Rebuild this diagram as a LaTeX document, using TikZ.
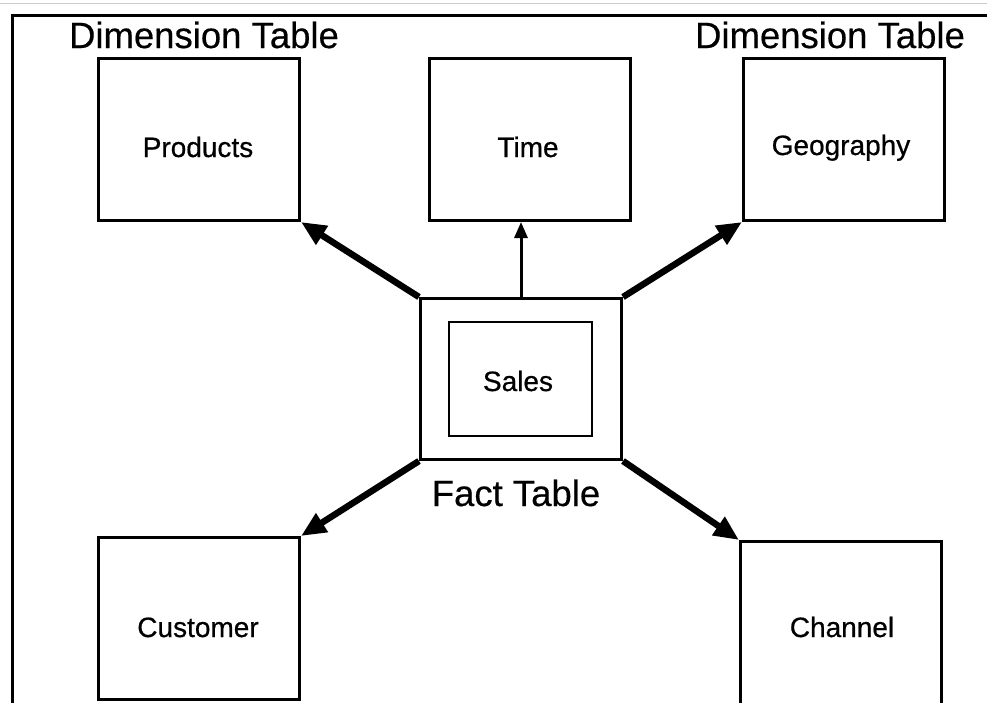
\documentclass[tikz,border=0pt]{standalone}
\usepackage{fontspec}
\setmainfont[FakeBold=0.6]{Liberation Sans}
\newfontfamily\titlefont[FakeBold=0.4]{Liberation Sans}
\usetikzlibrary{arrows.meta}
\begin{document}
\begin{tikzpicture}[x=1pt,y=-1pt,
  box/.style={draw,line width=3pt,minimum width=201pt,minimum height=162pt,inner sep=0pt,anchor=north west},
  lbl/.style={anchor=base,inner sep=0pt,font=\fontsize{28}{32}\selectfont},
  title/.style={anchor=base,inner sep=0pt,font=\titlefont\fontsize{36.5}{42}\selectfont},
  fat/.style={line width=6.5pt,-{Triangle[length=25pt,width=21pt]}},
  slim/.style={line width=3pt,-{Triangle[length=16pt,width=13pt]}}
]
\useasboundingbox (0,0) rectangle (987,702);
% top grey rule and frame
\draw[black!20,line width=1pt] (0,3.5) -- (987,3.5);
\draw[line width=3.5pt] (12.5,710) -- (12.5,15.5) -- (995,15.5);
% titles
\node[title] (dl) at (204,48) {Dimension Table};
\node[title] (dr) at (830,48) {Dimension Table};
% dimension boxes
\node[box] (prod) at (97,57) {};
\node[box] (time) at (428,57) {};
\node[box] (geo) at (742,57) {};
\node[box] (cust) at (97,536) {};
\node[box,minimum height=175pt] (chan) at (739,540) {};
% fact box
\node[box,minimum height=161pt] (fact) at (419,297) {};
\node[draw,line width=2pt,minimum width=143pt,minimum height=114pt,inner sep=0pt,anchor=north west] (sales) at (448,321) {};
% labels
\node[lbl] (prodt) at (198,157) {Products};
\node[lbl] (timet) at (528,157) {Time};
\node[lbl] (geot) at (841,155) {Geography};
\node[lbl] (salest) at (518,391) {Sales};
\node[lbl] (custt) at (198,637) {Customer};
\node[lbl] (chant) at (842,637) {Channel};
\node[title] (factt) at (516,506) {Fact Table};
% arrows
\draw[fat] (fact.north west) -- (prod.south east);
\draw[slim] (fact.north) -- (fact.north |- time.south);
\draw[fat] (fact.north east) -- (geo.south west);
\draw[fat] (fact.south west) -- (cust.north east);
\draw[fat] (fact.south east) -- (chan.north west);
\end{tikzpicture}
\end{document}
